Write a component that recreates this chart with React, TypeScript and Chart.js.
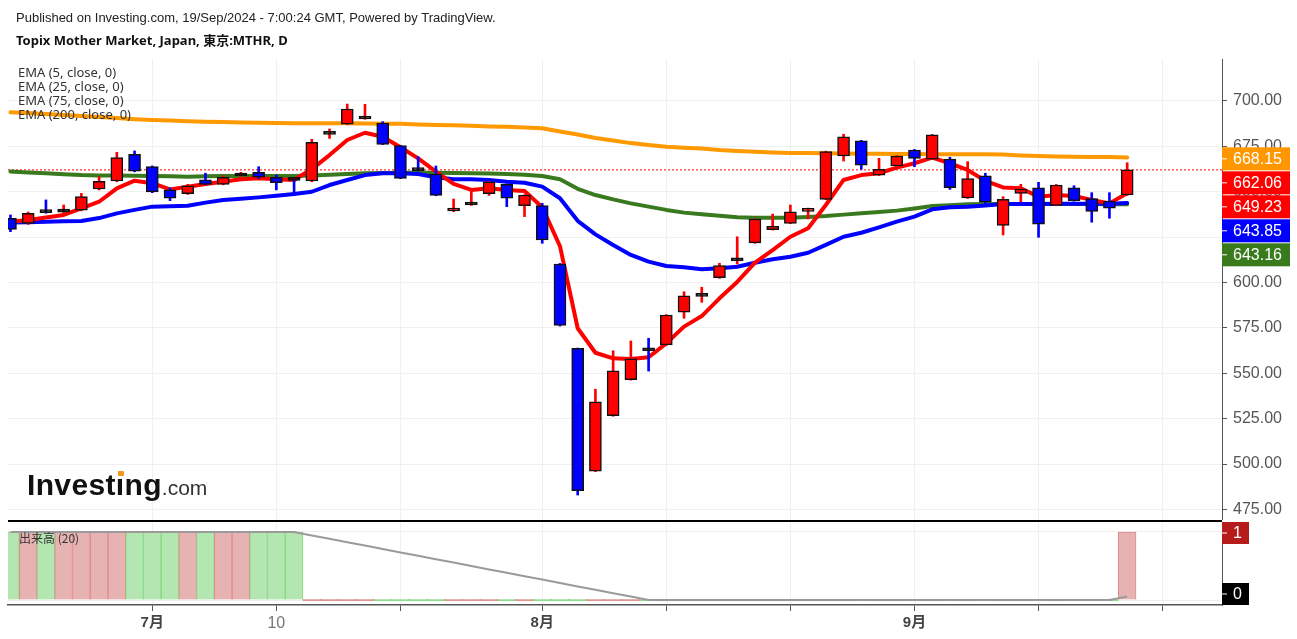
import React, { useEffect, useRef } from 'react';
import { Chart, registerables } from 'chart.js';

Chart.register(...registerables);

// ---- Data (Topix Mothers, daily, 19 Jun 2024 .. 19 Sep 2024) ----
const OPEN = [
  635.4, 632.6, 638.9, 638.8, 639.9, 651.5, 655.9, 670.6, 663.8, 651.0,
  648.9, 656.5, 654.1, 658.7, 660.7, 658.0, 656.7, 655.9, 681.6, 687.2,
  690.1, 687.9, 675.4, 662.0, 659.8, 639.4, 642.7, 648.9, 654.1, 642.3,
  642.4, 610.2, 563.7, 496.1, 526.6, 546.4, 562.8, 565.6, 583.6, 592.4,
  602.6, 612.0, 621.8, 629.1, 632.6, 639.2, 645.8, 669.7, 678.0, 659.2,
  664.2, 673.0, 668.0, 668.0, 646.6, 658.8, 631.5, 649.1, 652.2, 642.5,
  652.2, 646.2, 644.9, 648.2,
];
const HIGH = [
  637.2, 638.8, 645.5, 642.7, 649.1, 658.3, 671.7, 672.5, 664.2, 652.2,
  654.1, 660.2, 658.7, 660.7, 663.8, 659.2, 656.9, 678.9, 684.6, 698.3,
  698.2, 688.6, 675.6, 669.3, 664.2, 646.0, 650.4, 655.6, 654.3, 648.4,
  643.6, 610.5, 563.9, 541.2, 562.4, 567.8, 569.3, 582.3, 594.9, 597.4,
  610.6, 625.2, 635.2, 637.7, 642.7, 641.0, 672.4, 681.7, 678.3, 668.4,
  669.9, 673.3, 681.6, 669.0, 666.6, 660.2, 647.3, 654.1, 655.2, 654.0,
  653.3, 649.5, 649.5, 666.0,
];
const LOW = [
  628.0, 632.0, 638.2, 637.7, 639.5, 651.0, 655.5, 661.0, 649.5, 645.1,
  648.5, 654.0, 653.8, 658.5, 657.4, 651.0, 649.1, 655.5, 679.4, 687.0,
  689.9, 676.0, 657.2, 661.4, 647.8, 639.0, 642.5, 648.0, 641.8, 636.3,
  621.6, 576.0, 482.9, 495.8, 526.3, 546.2, 551.2, 565.3, 580.3, 589.1,
  602.3, 610.2, 621.6, 628.9, 632.4, 635.0, 645.6, 666.9, 662.4, 658.9,
  664.0, 663.8, 667.8, 651.3, 646.3, 642.7, 626.2, 644.5, 624.9, 642.3,
  644.8, 633.2, 635.4, 648.0,
];
const CLOSE = [
  629.3, 638.1, 638.5, 639.2, 647.3, 655.8, 668.8, 661.4, 649.9, 646.4,
  653.2, 654.1, 658.0, 659.0, 658.0, 655.0, 656.3, 677.2, 682.0, 695.6,
  690.5, 676.1, 657.4, 661.6, 648.0, 640.9, 643.1, 655.4, 646.4, 648.2,
  623.4, 576.4, 485.3, 534.2, 551.4, 558.0, 562.4, 582.1, 592.7, 592.8,
  609.3, 612.4, 635.0, 631.0, 639.0, 640.7, 672.1, 680.3, 664.7, 662.4,
  669.7, 668.4, 681.3, 652.2, 657.2, 644.2, 645.8, 651.5, 632.2, 653.7,
  645.1, 639.2, 640.9, 662.06,
];
const EMA5 = [
  633.5, 634.4, 635.8, 637.2, 640.9, 644.5, 651.9, 656.1, 654.7, 651.3,
  652.8, 654.3, 655.5, 656.9, 657.4, 656.9, 656.5, 662.5, 670.2, 678.5,
  682.5, 680.3, 674.5, 668.4, 661.1, 654.3, 651.0, 651.9, 651.0, 650.4,
  641.5, 620.0, 574.8, 561.3, 558.2, 557.9, 558.8, 566.5, 575.7, 581.5,
  591.3, 600.3, 610.9, 617.9, 625.2, 629.9, 642.7, 656.5, 659.2, 660.2,
  663.3, 665.7, 668.8, 665.7, 662.0, 656.0, 652.4, 651.9, 647.3, 648.2,
  647.7, 645.5, 643.6, 649.23,
];
const EMA25 = [
  633.0, 633.2, 633.5, 633.7, 633.9, 635.5, 638.1, 640.0, 641.8, 642.0,
  642.3, 644.0, 645.5, 646.2, 646.9, 647.8, 648.8, 650.0, 653.7, 656.5,
  659.2, 660.2, 660.2, 659.8, 658.0, 656.9, 656.9, 656.5, 655.5, 655.0,
  652.8, 646.4, 634.0, 626.5, 620.7, 615.2, 611.5, 609.1, 608.4, 607.3,
  607.8, 608.7, 610.9, 612.8, 614.2, 616.4, 620.7, 625.2, 627.4, 630.4,
  633.5, 636.3, 640.3, 641.4, 641.8, 642.4, 643.3, 643.3, 643.3, 643.4,
  643.4, 643.4, 643.4, 643.85,
];
const EMA75 = [
  661.1, 660.6, 660.2, 659.7, 659.2, 659.0, 658.9, 658.8, 658.7, 658.5,
  658.3, 658.5, 658.7, 658.7, 658.7, 658.7, 658.7, 659.0, 659.4, 659.8,
  660.2, 660.4, 660.5, 660.5, 660.5, 660.3, 660.2, 660.0, 659.8, 659.3,
  658.7, 656.9, 651.6, 648.2, 645.8, 643.6, 641.8, 640.0, 638.5, 637.6,
  636.8, 635.9, 635.7, 635.7, 635.7, 636.1, 636.6, 637.4, 638.1, 638.8,
  639.6, 640.8, 642.1, 642.6, 643.1, 643.2, 643.3, 643.2, 643.2, 643.2,
  643.2, 643.2, 643.1, 643.16,
];
const EMA200 = [
  693.8, 693.4, 692.9, 692.3, 691.8, 691.2, 690.6, 690.0, 689.5, 689.2,
  688.9, 688.6, 688.4, 688.2, 688.0, 687.9, 687.8, 687.8, 687.7, 687.7,
  687.6, 687.5, 687.4, 687.0, 686.8, 686.6, 686.3, 686.0, 685.8, 685.4,
  685.0, 683.2, 681.5, 679.6, 678.2, 676.8, 675.7, 674.8, 674.3, 673.8,
  673.0, 672.5, 672.0, 671.6, 671.4, 671.3, 671.2, 671.1, 671.0, 670.9,
  670.8, 670.8, 670.7, 670.7, 670.6, 670.6, 670.5, 670.0, 669.7, 669.4,
  669.3, 669.2, 669.1, 668.9,
];
const VOLUME = [
  1, 1, 1, 1, 1, 1, 1, 1, 1, 1,
  1, 1, 1, 1, 1, 1, 1, 0, 0, 0,
  0, 0, 0, 0, 0, 0, 0, 0, 0, 0,
  0, 0, 0, 0, 0, 0, 0, 0, 0, 0,
  0, 0, 0, 0, 0, 0, 0, 0, 0, 0,
  0, 0, 0, 0, 0, 0, 0, 0, 0, 0,
  0, 0, 0, 1,
];
const VOLUME_MA = [
  1, 1, 1, 1, 1, 1, 1, 1, 1, 1,
  1, 1, 1, 1, 1, 1, 1, 0.95, 0.9, 0.85,
  0.8, 0.75, 0.7, 0.65, 0.6, 0.55, 0.5, 0.45, 0.4, 0.35,
  0.3, 0.25, 0.2, 0.15, 0.1, 0.05, 0, 0, 0, 0,
  0, 0, 0, 0, 0, 0, 0, 0, 0, 0,
  0, 0, 0, 0, 0, 0, 0, 0, 0, 0,
  0, 0, 0, 0.05,
];
const LAST_PRICE = 662.06;
const X_TICKS = [8, 15, 22, 30, 37, 44, 51, 58, 65];
const X_TICK_LABELS: Record<number, string> = { 8: '7月', 15: '10', 30: '8月', 51: '9月' };
const BOLD_TICKS = [8, 30, 51];
const Y_TICKS = [475, 500, 525, 550, 575, 600, 625, 650, 675, 700];
const PRICE_LABELS = [
  { value: 668.15, text: '668.15', color: '#ff9800' },
  { value: 662.06, text: '662.06', color: '#ff0000' },
  { value: 649.23, text: '649.23', color: '#ff0000' },
  { value: 643.85, text: '643.85', color: '#0000ff' },
  { value: 643.16, text: '643.16', color: '#387a1c' },
];
const VOL_LABELS = [
  { value: 1, text: '1', color: '#b71c1c' },
  { value: 0, text: '0', color: '#000000' },
];
const LEGEND = ['EMA (5, close, 0)', 'EMA (25, close, 0)', 'EMA (75, close, 0)', 'EMA (200, close, 0)'];

const X_MIN = -0.14;
const X_MAX = 68.35;
const Y_MIN = 469.15;
const Y_MAX = 723.14;
const VOL_MIN = -0.0735;
const VOL_MAX = 1.147;

const UP = '#ff0000';
const DOWN = '#0000ff';
const AXIS = '#555555';
const GRID = '#f0f0f0';
const SANS = "'Liberation Sans', Arial, 'Noto Sans CJK JP', sans-serif";

const IDX = OPEN.map((_, i) => i);
const isUp = (i: number) => CLOSE[i] >= OPEN[i];
const isDoji = (i: number) => Math.abs(CLOSE[i] - OPEN[i]) < 0.6;

const mainLabelsPlugin = {
  id: 'mainLabels',
  afterDraw(chart: any) {
    const ctx = chart.ctx;
    const ys = chart.scales.y;
    const left = chart.chartArea.right;
    const items = PRICE_LABELS.map((l) => ({ ...l, py: ys.getPixelForValue(l.value) })).sort(
      (a, b) => a.py - b.py,
    );
    let prev = -Infinity;
    ctx.save();
    items.forEach((it) => {
      const c = Math.max(it.py, prev + 24);
      prev = c;
      ctx.fillStyle = it.color;
      ctx.fillRect(left, c - 11.5, 68, 23);
      ctx.fillStyle = '#ffffff';
      ctx.fillRect(left, c - 0.5, 5, 1);
      ctx.font = `16px ${SANS}`;
      ctx.textAlign = 'left';
      ctx.textBaseline = 'middle';
      ctx.fillText(it.text, left + 11, c + 1);
    });
    ctx.restore();
  },
};

const volLabelsPlugin = {
  id: 'volLabels',
  afterDraw(chart: any) {
    const ctx = chart.ctx;
    const ys = chart.scales.y;
    const area = chart.chartArea;
    ctx.save();
    // panel separator
    ctx.fillStyle = '#000000';
    ctx.fillRect(area.left, 0, area.right - area.left, 2);
    VOL_LABELS.forEach((l) => {
      const py = ys.getPixelForValue(l.value);
      const c = Math.min(Math.max(py, area.top + 11), area.bottom - 11);
      ctx.fillStyle = l.color;
      ctx.fillRect(area.right, c - 11, 27, 22);
      ctx.fillStyle = '#ffffff';
      ctx.fillRect(area.right, c - 0.5, 5, 1);
      ctx.font = `16px ${SANS}`;
      ctx.textAlign = 'left';
      ctx.textBaseline = 'middle';
      ctx.fillText(l.text, area.right + 11, c + 1);
    });
    ctx.restore();
  },
};

const lineDs = (values: number[], color: string, order: number) => ({
  type: 'line' as const,
  data: IDX.map((i) => ({ x: i, y: values[i] })),
  borderColor: color,
  borderWidth: 4,
  pointRadius: 0,
  tension: 0,
  borderJoinStyle: 'round' as const,
  borderCapStyle: 'round' as const,
  order,
});

export default function App() {
  const mainRef = useRef<HTMLCanvasElement>(null);
  const volRef = useRef<HTMLCanvasElement>(null);

  useEffect(() => {
    const main = new Chart(mainRef.current as HTMLCanvasElement, {
      type: 'bar',
      data: {
        datasets: [
          {
            type: 'bar',
            data: IDX.map((i) => ({ x: i, y: [OPEN[i], CLOSE[i]] })),
            backgroundColor: IDX.map((i) => (isDoji(i) ? '#000000' : isUp(i) ? UP : DOWN)),
            borderColor: '#111111',
            borderWidth: 1.5,
            borderSkipped: false,
            barThickness: 12,
            minBarLength: 3,
            grouped: false,
            clip: 0,
            order: 0,
          } as any,
          {
            type: 'bar',
            data: IDX.map((i) => ({ x: i, y: [LOW[i], HIGH[i]] })),
            backgroundColor: IDX.map((i) => (isUp(i) ? UP : DOWN)),
            borderWidth: 0,
            barThickness: 2,
            grouped: false,
            clip: 0,
            order: 1,
          } as any,
          lineDs(EMA5, '#ff0000', 2) as any,
          lineDs(EMA25, '#0000ff', 3) as any,
          lineDs(EMA75, '#3a7a1e', 4) as any,
          lineDs(EMA200, '#ff9900', 5) as any,
          {
            type: 'line',
            data: [
              { x: X_MIN, y: LAST_PRICE },
              { x: X_MAX, y: LAST_PRICE },
            ],
            borderColor: '#ff0000',
            borderWidth: 1,
            borderDash: [2, 2],
            pointRadius: 0,
            order: 6,
          } as any,
        ],
      },
      options: {
        animation: false,
        responsive: false,
        maintainAspectRatio: false,
        devicePixelRatio: 1,
        events: [],
        layout: { padding: { left: 8, top: 59, right: 0, bottom: 0 } },
        plugins: { legend: { display: false }, tooltip: { enabled: false } },
        scales: {
          x: {
            type: 'linear',
            min: X_MIN,
            max: X_MAX,
            offset: false,
            afterBuildTicks: (s: any) => {
              s.ticks = X_TICKS.map((v) => ({ value: v }));
            },
            afterFit: (s: any) => {
              s.height = 0;
              s.paddingLeft = 0;
              s.paddingRight = 0;
            },
            ticks: { display: false },
            grid: { color: GRID, drawTicks: false, offset: false },
            border: { display: false },
          },
          y: {
            type: 'linear',
            position: 'right',
            min: Y_MIN,
            max: Y_MAX,
            afterBuildTicks: (s: any) => {
              s.ticks = Y_TICKS.map((v) => ({ value: v }));
            },
            afterFit: (s: any) => {
              s.width = 75;
              s.paddingTop = 0;
              s.paddingBottom = 0;
            },
            ticks: {
              callback: (v: any) => Number(v).toFixed(2),
              color: AXIS,
              font: { family: SANS, size: 16 },
              padding: 6,
            },
            grid: { color: GRID, tickLength: 5, tickColor: AXIS, drawTicks: true },
            border: { display: true, color: AXIS, width: 1 },
          },
        },
      } as any,
      plugins: [mainLabelsPlugin],
    });

    const vol = new Chart(volRef.current as HTMLCanvasElement, {
      type: 'bar',
      data: {
        datasets: [
          {
            type: 'bar',
            data: IDX.map((i) => ({ x: i, y: VOLUME[i] })),
            backgroundColor: IDX.map((i) => (isUp(i) ? '#e6b2b2' : '#b3e6b1')),
            borderColor: IDX.map((i) => (isUp(i) ? '#e08a8a' : '#85d783')),
            borderWidth: 1,
            borderSkipped: 'start',
            barPercentage: 1,
            categoryPercentage: 1,
            minBarLength: 2,
            clip: 0,
            order: 1,
          } as any,
          {
            type: 'line',
            data: IDX.map((i) => ({ x: i, y: VOLUME_MA[i] })),
            borderColor: '#9a9a9a',
            borderWidth: 2,
            pointRadius: 0,
            tension: 0,
            order: 0,
          } as any,
        ],
      },
      options: {
        animation: false,
        responsive: false,
        maintainAspectRatio: false,
        devicePixelRatio: 1,
        events: [],
        layout: { padding: { left: 8, top: 2, right: 0, bottom: 0 } },
        plugins: { legend: { display: false }, tooltip: { enabled: false } },
        scales: {
          x: {
            type: 'linear',
            min: X_MIN,
            max: X_MAX,
            offset: false,
            afterBuildTicks: (s: any) => {
              s.ticks = X_TICKS.map((v) => ({ value: v }));
            },
            afterFit: (s: any) => {
              s.height = 34;
              s.paddingLeft = 0;
              s.paddingRight = 0;
            },
            ticks: {
              autoSkip: false,
              maxRotation: 0,
              minRotation: 0,
              padding: 3,
              callback: (v: any) => X_TICK_LABELS[Number(v)] ?? '',
              font: (ctx: any) =>
                BOLD_TICKS.includes(ctx.tick?.value)
                  ? { family: SANS, size: 15, weight: 'bold' }
                  : { family: SANS, size: 16, weight: 'normal' },
              color: (ctx: any) => (BOLD_TICKS.includes(ctx.tick?.value) ? '#444444' : '#777777'),
            },
            grid: { color: GRID, tickColor: AXIS, tickLength: 6, offset: false, drawTicks: true },
            border: { display: true, color: AXIS, width: 1.5 },
          },
          y: {
            type: 'linear',
            position: 'right',
            min: VOL_MIN,
            max: VOL_MAX,
            afterBuildTicks: (s: any) => {
              s.ticks = [{ value: 0 }, { value: 1 }];
            },
            afterFit: (s: any) => {
              s.width = 75;
              s.paddingTop = 0;
              s.paddingBottom = 0;
            },
            ticks: { display: false },
            grid: { color: '#eeeeee', drawTicks: false },
            border: { display: true, color: AXIS, width: 1 },
          },
        },
      } as any,
      plugins: [volLabelsPlugin],
    });

    return () => {
      main.destroy();
      vol.destroy();
    };
  }, []);

  return (
    <div
      style={{
        position: 'absolute',
        left: 0,
        top: 0,
        width: 1297,
        height: 639,
        background: '#ffffff',
        overflow: 'hidden',
      }}
    >
      <canvas ref={mainRef} width={1297} height={520} style={{ position: 'absolute', left: 0, top: 0 }} />
      <canvas ref={volRef} width={1297} height={119} style={{ position: 'absolute', left: 0, top: 520 }} />

      <div
        style={{
          position: 'absolute',
          left: 16,
          top: 10,
          fontFamily: SANS,
          fontSize: 13,
          lineHeight: '15px',
          color: '#222222',
          whiteSpace: 'nowrap',
        }}
      >
        Published on Investing.com, 19/Sep/2024 - 7:00:24 GMT, Powered by TradingView.
      </div>
      <div
        style={{
          position: 'absolute',
          left: 16,
          top: 32,
          fontFamily: "'Noto Sans', 'Noto Sans CJK JP', sans-serif",
          fontWeight: 'bold',
          fontSize: 13,
          lineHeight: '16px',
          color: '#111111',
          whiteSpace: 'nowrap',
        }}
      >
        Topix Mother Market, Japan, 東京:MTHR, D
      </div>

      <div
        style={{
          position: 'absolute',
          left: 18,
          top: 65,
          fontFamily: "'Noto Sans', sans-serif",
          fontSize: 13,
          lineHeight: '14px',
          color: '#333333',
          whiteSpace: 'nowrap',
        }}
      >
        {LEGEND.map((t) => (
          <div key={t}>{t}</div>
        ))}
      </div>

      <div
        style={{
          position: 'absolute',
          left: 27,
          top: 470,
          fontFamily: SANS,
          fontSize: 30,
          fontWeight: 'bold',
          lineHeight: '30px',
          whiteSpace: 'nowrap',
          color: '#111111',
        }}
      >
        <span style={{ letterSpacing: '0.35px' }}>
          Invest
          <span style={{ position: 'relative' }}>
            ı
            <span
              style={{
                position: 'absolute',
                left: 2,
                top: 3,
                width: 6,
                height: 5,
                background: '#f7931e',
                borderRadius: 1,
              }}
            />
          </span>
          ng
        </span>
        <span style={{ fontSize: 21, fontWeight: 'normal', color: '#333333' }}>.com</span>
      </div>

      <div
        style={{
          position: 'absolute',
          left: 19,
          top: 530,
          fontFamily: "'Noto Sans CJK JP', sans-serif",
          fontSize: 12,
          lineHeight: '15px',
          color: '#333333',
          whiteSpace: 'nowrap',
        }}
      >
        出来高 (20)
      </div>
    </div>
  );
}
